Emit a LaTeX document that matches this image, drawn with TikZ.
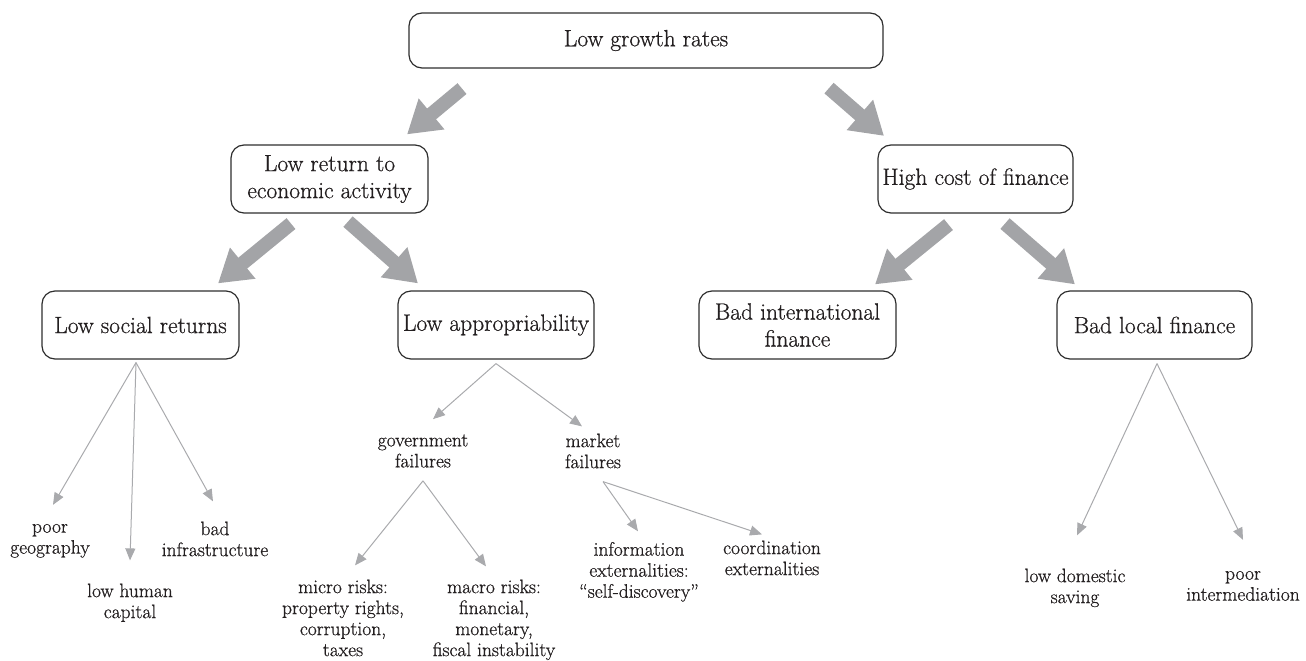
\documentclass[tikz,border=0pt]{standalone}
\usepackage{fontspec}
\newfontfamily\diagfont{Latin Modern Roman}[FakeBold=0.7]
\usetikzlibrary{arrows.meta}
\definecolor{boxline}{HTML}{2E2E2E}
\definecolor{thickgray}{HTML}{A3A4A7}
\definecolor{thingray}{HTML}{A9AAAD}
\definecolor{ink}{HTML}{231F20}
\begin{document}
\begin{tikzpicture}[x=1bp,y=-1bp,
  box/.style={draw=boxline, line width=1.2bp, rounded corners=13bp, align=center, inner sep=2bp, text=ink, font=\diagfont\fontsize{23.5bp}{27bp}\selectfont},
  lbl/.style={align=center, inner sep=0pt, text=ink, font=\diagfont\fontsize{19.5bp}{21bp}\selectfont, execute at begin node=\strut, execute at end node=\strut},
  bigarrow/.style={draw=thickgray, line width=14bp, -{Triangle[length=32bp,width=38bp]}},
  thinarrow/.style={draw=thingray, line width=1bp, -{Triangle[length=12bp,width=10bp]}},
]
\useasboundingbox (0,0) rectangle (1306,660);
% boxes
\node[box, minimum width=474bp, minimum height=55bp] (top) at (646,40.5) {Low growth rates};
\node[box, minimum width=197bp, minimum height=68bp] (ret) at (329.5,179) {Low return to\\economic activity};
\node[box, minimum width=195bp, minimum height=68bp] (hcf) at (975.5,179) {High cost of finance};
\node[box, minimum width=197bp, minimum height=68bp] (lsr) at (140.5,325) {Low social returns};
\node[box, minimum width=196bp, minimum height=68bp] (lap) at (496,325) {Low appropriability};
\node[box, minimum width=197bp, minimum height=68bp] (bif) at (797.5,325) {Bad international\\finance};
\node[box, minimum width=195bp, minimum height=68bp] (blf) at (1154.5,325) {Bad local finance};
% labels
\node[lbl] (pg) at (50,542) {poor\\geography};
\node[lbl] (lhc) at (130,604) {low human\\capital};
\node[lbl] (bi) at (215,542) {bad\\infrastructure};
\node[lbl] (gf) at (423,454) {government\\failures};
\node[lbl] (mf) at (593,454) {market\\failures};
\node[lbl] (mi) at (343,621) {micro risks:\\property rights,\\corruption,\\taxes};
\node[lbl] (ma) at (494,621) {macro risks:\\financial,\\monetary,\\fiscal instability};
\node[lbl] (inf) at (639,573) {information\\externalities:\\“self-discovery”};
\node[lbl] (co) at (772,561) {coordination\\externalities};
\node[lbl] (lds) at (1075,589) {low domestic\\saving};
\node[lbl] (pim) at (1243,589) {poor\\intermediation};
% thick arrows
\draw[bigarrow] ([shift={(-184,20)}]top.south) -- ([shift={(77.5,-10)}]ret.north);
\draw[bigarrow] ([shift={(183,19.5)}]top.south) -- ([shift={(-91.5,-8.5)}]hcf.north);
\draw[bigarrow] ([shift={(-38.5,10)}]ret.south) -- ([shift={(77.5,-7)}]lsr.north);
\draw[bigarrow] ([shift={(18.5,8)}]ret.south) -- ([shift={(-78,-7)}]lap.north);
\draw[bigarrow] ([shift={(-27,11)}]hcf.south) -- ([shift={(77.5,-6)}]bif.north);
\draw[bigarrow] ([shift={(29.5,10)}]hcf.south) -- ([shift={(-79.5,-6)}]blf.north);
% thin arrows
\draw[thinarrow] ([shift={(-4.5,3)}]lsr.south) -- ([shift={(3,-19)}]pg.north);
\draw[thinarrow] ([shift={(-4.5,3)}]lsr.south) -- ([shift={(0,-23)}]lhc.north);
\draw[thinarrow] ([shift={(-4.5,3)}]lsr.south) -- ([shift={(-2,-20)}]bi.north);
\draw[thinarrow] ([shift={(0,4)}]lap.south) -- ([shift={(10,-15)}]gf.north);
\draw[thinarrow] ([shift={(0,4)}]lap.south) -- ([shift={(-11,-7)}]mf.north);
\draw[thinarrow] ([shift={(0,7)}]gf.south) -- ([shift={(12,-14)}]mi.north);
\draw[thinarrow] ([shift={(0,7)}]gf.south) -- ([shift={(-8,-13)}]ma.north);
\draw[thinarrow] ([shift={(10,7)}]mf.south) -- ([shift={(-1,-10.5)}]inf.north);
\draw[thinarrow] ([shift={(10,7)}]mf.south) -- ([shift={(-10,-6)}]co.north);
\draw[thinarrow] ([shift={(2.5,4)}]blf.south) -- ([shift={(2,-33)}]lds.north);
\draw[thinarrow] ([shift={(2.5,4)}]blf.south) -- ([shift={(0,-31)}]pim.north);
\end{tikzpicture}
\end{document}
